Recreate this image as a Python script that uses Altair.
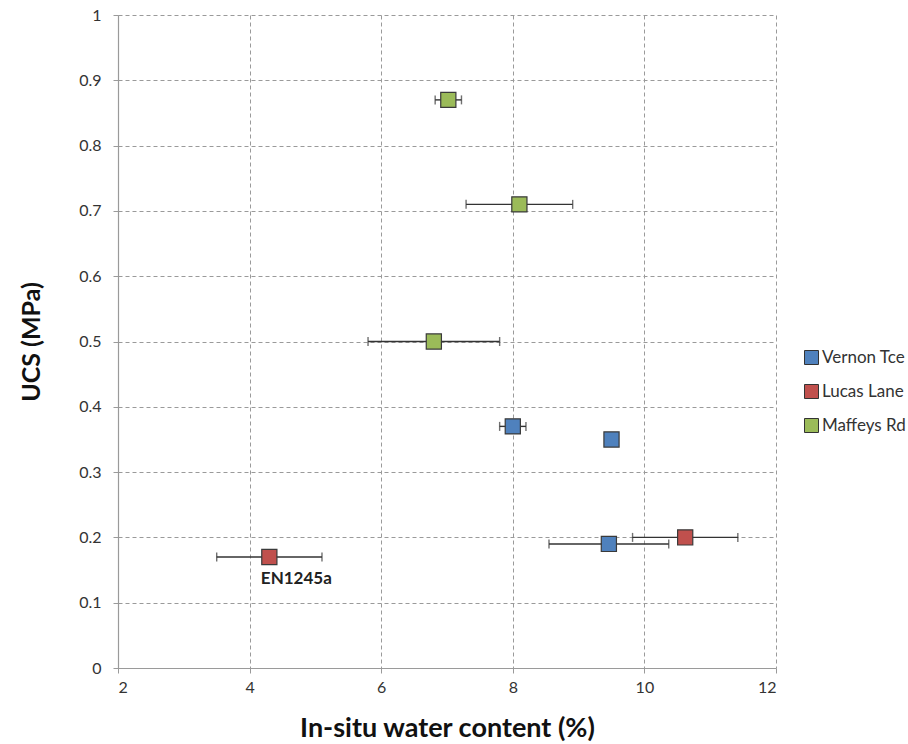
import altair as alt
import pandas as pd

series_names = ["Vernon Tce", "Lucas Lane", "Maffeys Rd"]
series_colors = ["#4F81BD", "#C0504D", "#9BBB59"]

vernon_x = [8.0, 9.5, 9.46]
vernon_y = [0.37, 0.35, 0.19]
vernon_err = [0.2, 0.0, 0.91]

lucas_x = [10.62, 4.3]
lucas_y = [0.20, 0.17]
lucas_err = [0.8, 0.8]

maffeys_x = [7.02, 8.1, 6.8]
maffeys_y = [0.87, 0.71, 0.50]
maffeys_err = [0.2, 0.81, 1.0]

label_text = ["EN1245a"]
label_x = [4.3]
label_y = [0.17]

x_ticks = [2, 4, 6, 8, 10, 12]
y_ticks = [0, 0.1, 0.2, 0.3, 0.4, 0.5, 0.6, 0.7, 0.8, 0.9, 1]

rows = []
for name, xs, ys, es in [
    ("Vernon Tce", vernon_x, vernon_y, vernon_err),
    ("Lucas Lane", lucas_x, lucas_y, lucas_err),
    ("Maffeys Rd", maffeys_x, maffeys_y, maffeys_err),
]:
    for x, y, e in zip(xs, ys, es):
        rows.append({"series": name, "x": x, "y": y, "err": e, "lo": x - e, "hi": x + e})
df = pd.DataFrame(rows)
df_err = df[df["err"] > 0]
df_caps = pd.concat([
    df_err[["y", "lo"]].rename(columns={"lo": "xc"}),
    df_err[["y", "hi"]].rename(columns={"hi": "xc"}),
])
df_lab = pd.DataFrame({"text": label_text, "x": label_x, "y": label_y})

FONT = "Lato"
xscale = alt.Scale(domain=[2, 12], nice=False, zero=False)
yscale = alt.Scale(domain=[0, 1], nice=False, zero=True)

xaxis = alt.Axis(
    title="In-situ water content (%)", values=x_ticks, format="d",
    grid=True, gridDash=[4, 3], gridColor="#9a9a9a", gridWidth=1,
    domainColor="#9a9a9a", domainWidth=1.2, tickColor="#9a9a9a", tickSize=5,
    labelFont=FONT, labelFontSize=16, labelColor="#333333", labelPadding=6,
    titleFont=FONT, titleFontSize=27, titleFontWeight="bold", titleColor="#111111",
    titlePadding=20,
)
yaxis = alt.Axis(
    title="UCS (MPa)", values=y_ticks, format="~g",
    grid=True, gridDash=[4, 3], gridColor="#9a9a9a", gridWidth=1,
    domainColor="#9a9a9a", domainWidth=1.2, tickColor="#9a9a9a", tickSize=5,
    labelFont=FONT, labelFontSize=16, labelColor="#333333", labelPadding=12,
    titleFont=FONT, titleFontSize=25, titleFontWeight="bold", titleColor="#111111",
    titlePadding=34,
)

base_err = alt.Chart(df_err)
rules = base_err.mark_rule(color="#333333", strokeWidth=1.4).encode(
    x=alt.X("lo:Q", scale=xscale, axis=xaxis),
    x2="hi:Q",
    y=alt.Y("y:Q", scale=yscale, axis=yaxis),
)
caps = alt.Chart(df_caps).mark_tick(orient="vertical", size=9, thickness=1.4, color="#333333").encode(
    x=alt.X("xc:Q", scale=xscale),
    y=alt.Y("y:Q", scale=yscale),
)
points = alt.Chart(df).mark_point(
    shape="square", filled=True, size=230, stroke="#3a3a3a", strokeWidth=1.2, opacity=1
).encode(
    x=alt.X("x:Q", scale=xscale),
    y=alt.Y("y:Q", scale=yscale),
    color=alt.Color(
        "series:N",
        scale=alt.Scale(domain=series_names, range=series_colors),
        legend=alt.Legend(
            title=None, orient="none", legendX=685, legendY=334,
            symbolType="square", symbolSize=196, symbolStrokeColor="#333333",
            symbolStrokeWidth=1, symbolOpacity=1,
            labelFont=FONT, labelFontSize=17, labelColor="#333333",
            rowPadding=15, labelOffset=2,
        ),
    ),
)
labels = alt.Chart(df_lab).mark_text(
    font=FONT, fontSize=17, fontWeight="bold", color="#222222", dx=27, dy=22
).encode(
    x=alt.X("x:Q", scale=xscale),
    y=alt.Y("y:Q", scale=yscale),
    text="text:N",
)

chart = alt.layer(rules, caps, points, labels).properties(
    width=658, height=653,
    autosize=alt.AutoSizeParams(type="none"),
    padding={"left": 118, "top": 15, "right": 132, "bottom": 76},
    background="white",
).configure_view(stroke=None)

chart.save("out.html", embed_options={"renderer": "svg", "actions": False})
